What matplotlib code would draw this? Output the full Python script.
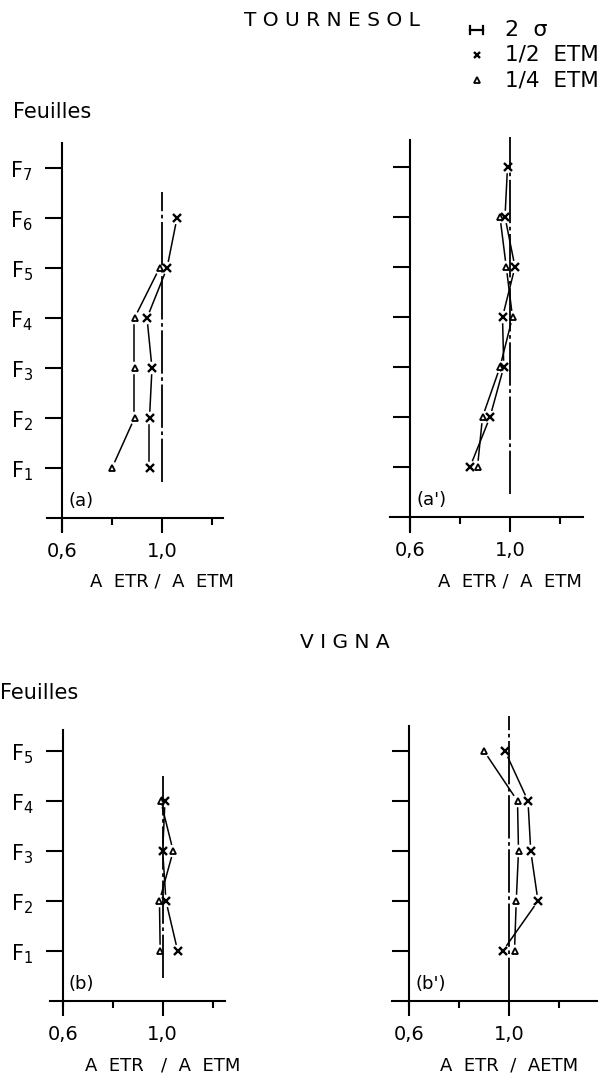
import numpy as np
import matplotlib
matplotlib.use("Agg")
import matplotlib.pyplot as plt
from matplotlib.lines import Line2D

plt.rcParams['font.family'] = ['DejaVu Sans']
plt.rcParams['mathtext.default'] = 'regular'

# values (A ETR / A ETM per leaf level)
# TOURNESOL (a): x = 1/2 ETM, triangle = 1/4 ETM
a_half_leaf = [1, 2, 3, 4, 5, 6]
a_half = [0.95, 0.95, 0.96, 0.94, 1.02, 1.06]
a_quarter_leaf = [1, 2, 3, 4, 5]
a_quarter = [0.80, 0.89, 0.89, 0.89, 0.99]

# TOURNESOL (a')
a2_half_leaf = [1, 2, 3, 4, 5, 6, 7]
a2_half = [0.84, 0.92, 0.975, 0.97, 1.02, 0.98, 0.99]
a2_quarter_leaf = [1, 2, 3, 4, 5, 6]
a2_quarter = [0.87, 0.89, 0.96, 1.01, 0.985, 0.96]

# VIGNA (b)
b_half_leaf = [1, 2, 3, 4]
b_half = [1.06, 1.013, 1.0, 1.009]
b_quarter_leaf = [1, 2, 3, 4]
b_quarter = [0.99, 0.987, 1.042, 0.992]

# VIGNA (b')
b2_half_leaf = [1, 2, 3, 4, 5]
b2_half = [0.975, 1.116, 1.087, 1.076, 0.984]
b2_quarter_leaf = [1, 2, 3, 4, 5]
b2_quarter = [1.022, 1.029, 1.038, 1.034, 0.90]

# extent of the reference line at 1,0 (leaf levels)
ref_lo = [0.72, 0.46, 0.47, 0.0]
ref_hi = [6.52, 7.6, 4.5, 5.7]

n_leaves = [7, 7, 5, 5]
panel_labels = ['(a)', "(a')", '(b)', "(b')"]
xlabels = ['A  ETR /  A  ETM', 'A  ETR /  A  ETM', 'A  ETR   /  A  ETM', 'A  ETR  /  AETM']

W, H = 608, 1076
fig = plt.figure(figsize=(W / 100, H / 100), dpi=100)


def px(x, y):
    return x / W, 1 - y / H


def gapped(ax, xs, ys, gap=7):
    # connect points leaving small gaps at each marker, like the drawing
    pts = ax.transData.transform(np.column_stack([xs, ys]))
    inv = ax.transData.inverted()
    for p0, p1 in zip(pts[:-1], pts[1:]):
        d = p1 - p0
        L = np.hypot(*d)
        if L <= 2 * gap:
            continue
        u = d / L
        a = inv.transform(p0 + u * gap)
        b = inv.transform(p1 - u * gap)
        ax.plot([a[0], b[0]], [a[1], b[1]], color='k', lw=1.1)


# layout: pixel x of the 0,6 axis, pixel y of the leaf-0 axis, top ylim, spine bounds
layout = [
    dict(x06=62, y0=518, ytop=7.8, lb=(-0.25, 7.5), bb=(0.54, 1.245), ticklab=True),
    dict(x06=410, y0=517, ytop=7.8, lb=(-0.3, 7.55), bb=(0.52, 1.29), ticklab=False),
    dict(x06=62.7, y0=1001, ytop=5.8, lb=(-0.1, 5.42), bb=(0.55, 1.25), ticklab=True),
    dict(x06=409, y0=1001, ytop=5.8, lb=(-0.1, 5.5), bb=(0.53, 1.35), ticklab=False),
]
series = [
    (a_half_leaf, a_half, a_quarter_leaf, a_quarter),
    (a2_half_leaf, a2_half, a2_quarter_leaf, a2_quarter),
    (b_half_leaf, b_half, b_quarter_leaf, b_quarter),
    (b2_half_leaf, b2_half, b2_quarter_leaf, b2_quarter),
]

for i, p in enumerate(layout):
    left = p['x06'] - 25
    bottom_px = p['y0'] + 25
    height = 25 + p['ytop'] * 50
    ax = fig.add_axes([left / W, 1 - bottom_px / H, 225 / W, height / H])
    ax.set_xlim(0.5, 1.4)
    ax.set_ylim(-0.5, p['ytop'])
    ax.patch.set_alpha(0)
    for s in ['top', 'right']:
        ax.spines[s].set_visible(False)
    ax.spines['left'].set_position(('data', 0.6))
    ax.spines['bottom'].set_position(('data', 0))
    ax.spines['left'].set_bounds(*p['lb'])
    ax.spines['bottom'].set_bounds(*p['bb'])
    for s in ['left', 'bottom']:
        ax.spines[s].set_linewidth(1.5)

    ax.set_xticks([0.6, 1.0])
    ax.set_xticklabels(['0,6', '1,0'], fontsize=14)
    ax.set_xticks([0.8, 1.2], minor=True)
    ax.tick_params(axis='x', which='major', direction='out', length=11, width=1.5, pad=6)
    ax.tick_params(axis='x', which='minor', direction='out', length=5, width=1.5)

    levels = list(range(1, n_leaves[i] + 1))
    ax.set_yticks(levels)
    if p['ticklab']:
        ax.set_yticklabels(['F$_{%d}$' % k for k in levels], fontsize=15)
    else:
        ax.set_yticklabels([])
    ax.tick_params(axis='y', direction='out', length=12, width=1.5, pad=9)

    fig.canvas.draw()

    h_leaf, h_val, q_leaf, q_val = series[i]
    ax.plot([1.0, 1.0], [ref_lo[i], ref_hi[i]], color='k', lw=1.3,
            linestyle=(0, (24, 2, 2, 2)))
    gapped(ax, h_val, h_leaf)
    gapped(ax, q_val, q_leaf)
    ax.plot(h_val, h_leaf, linestyle='none', marker='x', ms=5.5, mew=1.7, color='k')
    ax.plot(q_val, q_leaf, linestyle='none', marker='^', ms=4.5, mew=1.3,
            mfc='white', mec='k')

    ax.text(0.625, 0.34, panel_labels[i], fontsize=13, va='center', ha='left')
    ax.annotate(xlabels[i], xy=(1.0, 0), xytext=(0, -64), textcoords='offset pixels',
                ha='center', va='center', fontsize=13)

# titles and legend
fig.text(*px(332, 20), 'T O U R N E S O L', ha='center', va='center', fontsize=14.5)
fig.text(*px(345, 642), 'V I G N A', ha='center', va='center', fontsize=14.5)
fig.text(*px(13, 112), 'Feuilles', ha='left', va='center', fontsize=15)
fig.text(*px(0, 693), 'Feuilles', ha='left', va='center', fontsize=15)

x0, y0 = px(470, 30)
x1, _ = px(483, 30)
dy = 4 / H
fig.add_artist(Line2D([x0, x1], [y0, y0], color='k', lw=1.6))
fig.add_artist(Line2D([x0, x0], [y0 - dy, y0 + dy], color='k', lw=1.6))
fig.add_artist(Line2D([x1, x1], [y0 - dy, y0 + dy], color='k', lw=1.6))
fig.text(*px(505, 30), '2  σ', ha='left', va='center', fontsize=16)
mx, my = px(477, 55)
fig.add_artist(Line2D([mx], [my], marker='x', ms=5, mew=1.7, color='k'))
fig.text(*px(505, 55), '1/2  ETM', ha='left', va='center', fontsize=15.5)
mx, my = px(477, 80)
fig.add_artist(Line2D([mx], [my], marker='^', ms=4, mew=1.3, mfc='white', mec='k'))
fig.text(*px(505, 80), '1/4  ETM', ha='left', va='center', fontsize=15.5)

fig.savefig('out.png', dpi=100)
